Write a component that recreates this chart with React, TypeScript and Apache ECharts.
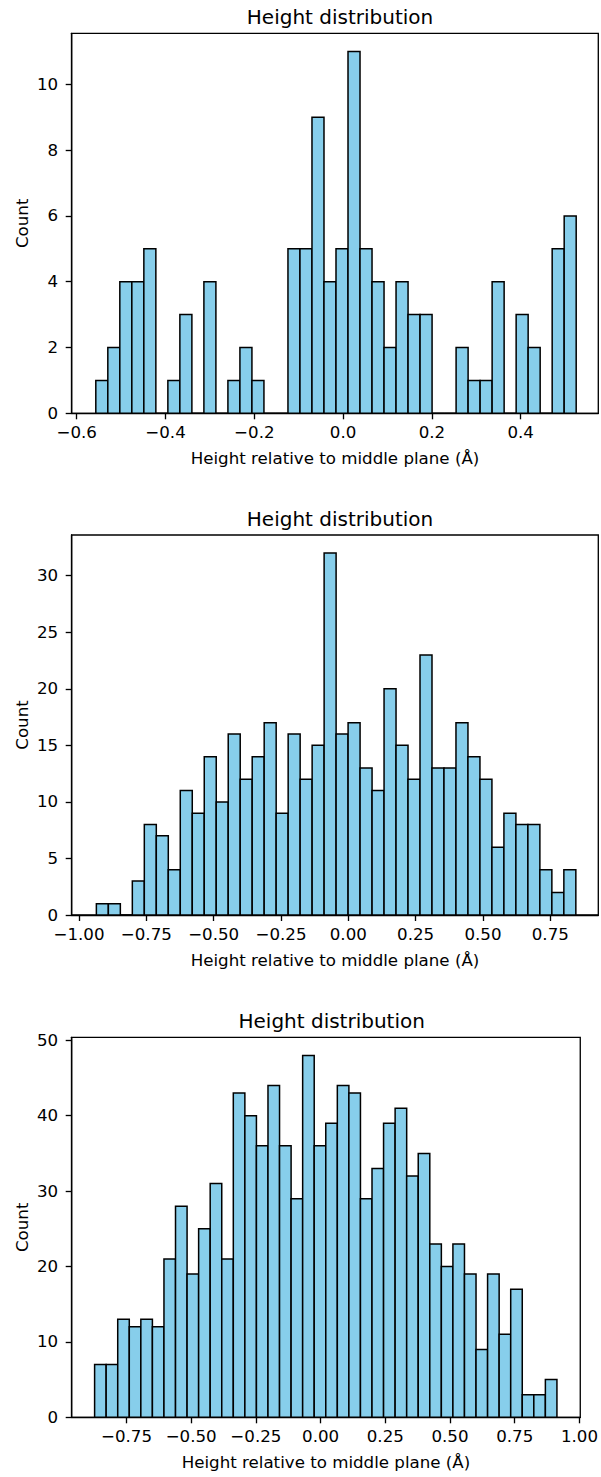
import React, { useEffect, useRef } from "react";
import * as echarts from "echarts";

// ---- Data ----
const titles = ["Height distribution", "Height distribution", "Height distribution"];
const xLabel = "Height relative to middle plane (Å)";
const yLabel = "Count";

// histogram 1
const counts1 = [1, 2, 4, 4, 5, 0, 1, 3, 0, 4, 0, 1, 2, 1, 0, 0, 5, 5, 9, 4, 5, 11, 5, 4, 2, 4, 3, 3, 0, 0, 2, 1, 1, 4, 0, 3, 2, 0, 5, 6];
const binStart1 = -0.557;
const binWidth1 = 0.02705;
const xTicks1 = [-0.6, -0.4, -0.2, 0.0, 0.2, 0.4];
const yTicks1 = [0, 2, 4, 6, 8, 10];

// histogram 2
const counts2 = [1, 1, 0, 3, 8, 7, 4, 11, 9, 14, 10, 16, 12, 14, 17, 9, 16, 12, 15, 32, 16, 17, 13, 11, 20, 15, 12, 23, 13, 13, 17, 14, 12, 6, 9, 8, 8, 4, 2, 4];
const binStart2 = -0.9355;
const binWidth2 = 0.04451;
const xTicks2 = [-1.0, -0.75, -0.5, -0.25, 0.0, 0.25, 0.5, 0.75];
const yTicks2 = [0, 5, 10, 15, 20, 25, 30];

// histogram 3
const counts3 = [7, 7, 13, 12, 13, 12, 21, 28, 19, 25, 31, 21, 43, 40, 36, 44, 36, 29, 48, 36, 39, 44, 43, 29, 33, 39, 41, 32, 35, 23, 20, 23, 19, 9, 19, 11, 17, 3, 3, 5];
const binStart3 = -0.873;
const binWidth3 = 0.04465;
const xTicks3 = [-0.75, -0.5, -0.25, 0.0, 0.25, 0.5, 0.75, 1.0];
const yTicks3 = [0, 10, 20, 30, 40, 50];

const FONT = "DejaVu Sans";
const FS = 16.67;

function toBins(counts: number[], start: number, width: number) {
  return counts.map((c, i) => [start + i * width, start + (i + 1) * width, c]);
}

const panels = [
  { bins: toBins(counts1, binStart1, binWidth1), xTicks: xTicks1, yTicks: yTicks1, xMin: -0.6113, xMax: 0.5748, yMax: 11.55, dec: 1, left: 71.7, width: 526.6, top: 33.3, height: 380 },
  { bins: toBins(counts2, binStart2, binWidth2), xTicks: xTicks2, yTicks: yTicks2, xMin: -1.0271, xMax: 0.9283, yMax: 33.6, dec: 2, left: 71.7, width: 526.6, top: 535, height: 380 },
  { bins: toBins(counts3, binStart3, binWidth3), xTicks: xTicks3, yTicks: yTicks3, xMin: -0.9615, xMax: 1.0031, yMax: 50.4, dec: 2, left: 71.7, width: 510, top: 1037.3, height: 380 },
];

function fmt(v: number, dec: number) {
  const s = Math.abs(v) < 1e-9 ? (0).toFixed(dec) : v.toFixed(dec);
  return s.replace("-", "\u2212");
}

export default function App() {
  const ref = useRef<HTMLDivElement>(null);
  useEffect(() => {
    document.body.style.margin = "0";
    if (!ref.current) return;
    const chart = echarts.init(ref.current, null, { renderer: "svg" });
    const axisLine = { show: true, onZero: false, lineStyle: { color: "#000", width: 1.33 } };
    const axisTickBase = { show: true, length: 6, lineStyle: { color: "#000", width: 1.33 } };
    const option: any = {
      animation: false,
      backgroundColor: "#fff",
      title: panels.map((p, i) => ({
        text: titles[i],
        left: p.left + p.width / 2,
        top: p.top - 31.5,
        textAlign: "center",
        textStyle: { fontFamily: FONT, fontSize: 20, fontWeight: "normal", color: "#000" },
      })),
      grid: panels.map((p) => ({
        left: p.left,
        top: p.top,
        width: p.width,
        height: p.height,
        show: true,
        borderColor: "#000",
        borderWidth: 1.33,
        backgroundColor: "transparent",
      })),
      xAxis: panels.map((p, i) => ({
        type: "value",
        gridIndex: i,
        min: p.xMin,
        max: p.xMax,
        name: xLabel,
        nameLocation: "middle",
        nameGap: 37,
        nameMoveOverlap: false,
        nameTextStyle: { fontFamily: FONT, fontSize: FS, color: "#000" },
        axisLine,
        axisTick: { ...axisTickBase, customValues: p.xTicks },
        axisLabel: {
          customValues: p.xTicks,
          margin: 10.5,
          fontFamily: FONT,
          fontSize: FS,
          color: "#000",
          formatter: (v: number) => fmt(v, p.dec),
        },
        splitLine: { show: false },
      })),
      yAxis: panels.map((p, i) => ({
        type: "value",
        gridIndex: i,
        min: 0,
        max: p.yMax,
        name: yLabel,
        nameLocation: "middle",
        nameRotate: 90,
        nameGap: 41,
        nameMoveOverlap: false,
        nameTextStyle: { fontFamily: FONT, fontSize: FS, color: "#000" },
        axisLine,
        axisTick: { ...axisTickBase, customValues: p.yTicks },
        axisLabel: {
          customValues: p.yTicks,
          margin: 13.5,
          fontFamily: FONT,
          fontSize: FS,
          color: "#000",
          formatter: (v: number) => String(v),
        },
        splitLine: { show: false },
      })),
      series: panels.map((p, i) => ({
        type: "custom",
        xAxisIndex: i,
        yAxisIndex: i,
        clip: false,
        encode: { x: [0, 1], y: 2 },
        data: p.bins,
        renderItem: (params: any, api: any) => {
          const x0 = api.value(0);
          const x1 = api.value(1);
          const c = api.value(2);
          const a = api.coord([x0, c]);
          const b = api.coord([x1, 0]);
          return {
            type: "rect",
            shape: { x: a[0], y: a[1], width: b[0] - a[0], height: b[1] - a[1] },
            style: { fill: "#87CEEB", stroke: "#000", lineWidth: 1.5 },
          };
        },
      })),
    };
    chart.setOption(option);
    return () => chart.dispose();
  }, []);
  return <div ref={ref} style={{ width: 601, height: 1477 }} />;
}
